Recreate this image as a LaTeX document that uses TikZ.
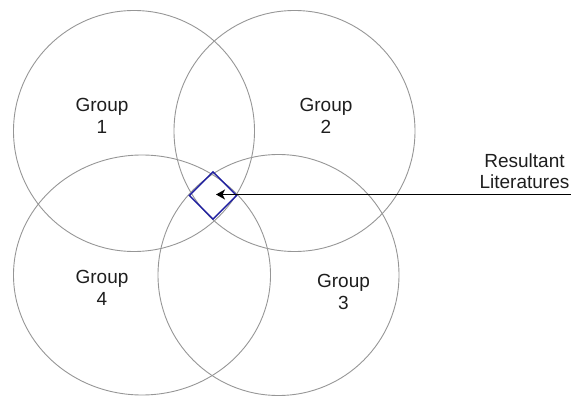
\documentclass[tikz,border=0pt]{standalone}
\usepackage{fontspec}
\setmainfont{Liberation Sans}
\usetikzlibrary{shapes.geometric,arrows.meta}
\begin{document}
\begin{tikzpicture}[x=1pt,y=-1pt,
  grp/.style={draw={rgb,255:red,150;green,150;blue,150},line width=0.9pt,inner sep=0pt,outer sep=0pt},
  lbl/.style={align=center,inner sep=0pt,text={rgb,255:red,30;green,30;blue,30},font=\fontsize{19}{21.5}\selectfont},
  res/.style={diamond,draw={rgb,255:red,30;green,30;blue,160},line width=1.4pt,minimum width=48pt,minimum height=48pt,inner sep=0pt},
  conn/.style={draw=black,line width=1.2pt,-{Stealth[length=9pt,width=10pt,inset=2.5pt]}}]
\useasboundingbox (0,0) rectangle (571,396);
\clip (0,0) rectangle (571,396);
\node[grp,circle,minimum size=241pt] (c1) at (134,131) {};
\node[grp,circle,minimum size=241pt] (c2) at (294.5,131) {};
\node[grp,circle,minimum size=241pt] (c3) at (278.5,275) {};
\node[grp,ellipse,minimum width=257pt,minimum height=240pt] (c4) at (142,275) {};
\node[lbl] (t1) at (102,116) {Group\\1};
\node[lbl] (t2) at (326,116) {Group\\2};
\node[lbl] (t4) at (102,288) {Group\\4};
\node[lbl] (t3) at (343.5,292) {Group\\3};
\node[lbl] (tr) at (524.5,171) {Resultant\\Literatures};
\node[res] (d) at (213,195.5) {};
\coordinate (src) at (580,194.5);
\coordinate (tip) at (216,194.5);
\draw[conn] (src) -- (tip);
\end{tikzpicture}
\end{document}
